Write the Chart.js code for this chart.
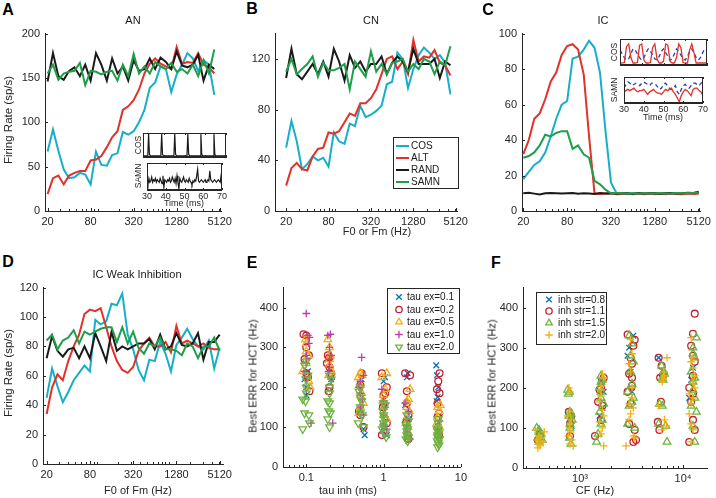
<!DOCTYPE html>
<html><head><meta charset="utf-8">
<script src="https://cdn.jsdelivr.net/npm/chart.js@4.4.1/dist/chart.umd.min.js"></script>
<style>
html,body{margin:0;padding:0;background:#fff;}
#fig{position:relative;width:716px;height:498px;overflow:hidden;background:#fff;font-family:"Liberation Sans",Arial,Helvetica,sans-serif;color:#262626;}
#fig canvas{position:absolute;}
.t{position:absolute;white-space:nowrap;line-height:1;}
</style></head>
<body><div id="fig"></div>
<script>
// ================= DATA =================
const freqHz = [20,23.8,28.3,33.6,40,47.6,56.6,67.3,80,95.1,113,135,160,190,226,269,320,381,453,538,640,761,905,1076,1280,1522,1810,2153,2560,3044,3620,4305,5120];
const freqTickLabels = [20,80,320,1280,5120];
const freqMinorTicks = [30,40,50,60,70,90,100,200,300,400,500,600,700,800,900,1000,2000,3000,4000,5000];
const seriesNames = ['COS','ALT','RAND','SAMN'];

// Panel A (AN)
const anCos  = [67,92,68,47,37,38,43,41,30,67,52,51,63,65,89,86,90,100,114,139,145,163,160,134,154,165,178,172,158,170,165,131];
const anAlt  = [19,37,40,30,40,43,45,45,57,58,62,72,83,90,114,118,125,137,155,166,172,166,163,160,185,166,168,167,178,165,162,155];
const anRand = [146,178,152,148,158,162,152,165,147,178,165,147,172,155,163,147,170,158,160,172,160,173,168,160,180,164,162,165,176,147,165,160];
const anSamn = [155,165,148,155,157,158,167,142,158,157,154,157,158,147,165,152,177,155,163,155,168,163,160,167,157,160,155,165,152,170,155,182];
// Panel B (CN)
const cnCos  = [50,71,55,33,37,43,40,42,35,62,55,53,69,67,83,74,76,79,83,100,102,125,120,97,112,123,129,125,120,123,117,92];
const cnAlt  = [20,34,38,33,32,43,49,50,62,61,63,70,77,75,85,85,89,96,108,120,122,112,118,108,135,118,122,121,127,117,115,107];
const cnRand = [105,128,108,104,110,116,108,118,106,128,118,103,123,113,118,110,116,116,122,108,117,122,118,110,128,116,116,116,120,105,118,115];
const cnSamn = [110,120,108,112,116,122,106,117,111,111,113,116,96,118,112,106,126,110,116,108,117,118,120,110,116,112,120,118,108,118,115,130];
// Panel C (IC)
const icCos  = [18,22,26,28,33,42,52,60,62,86,87,91,96,92,78,45,16,10,10,9.5,10,9.8,9.6,10,9.4,9.8,10,9.6,9.8,10,9.7,9.9,10];
const icAlt  = [32,40,52,55,63,73,78,88,93,94,91,77,42,10,9.6,9.8,10,9.5,9.6,10,9.4,9.8,9.5,10,9.6,9.8,9.4,10,9.6,9.5,9.8,9.6,9.9];
const icRand = [10,10.3,9.8,9.3,10,10.2,10,9.8,10,10.1,9.7,10,9.8,9.6,10.2,9.9,10,9.7,10.2,10,9.6,10.1,10,9.8,10.2,9.7,10,10.1,9.8,10,10.3,10.2,10.8];
const icSamn = [30,31,33,37,43,42,44,45,45,35,37,32,30,17,15,12,10,10,10.2,9.8,10,9.9,10.1,9.8,10,10.1,9.9,10,10.2,10,10.1,10.2,10.4];
// Panel D (IC weak inhibition)
const wkCos  = [45,65,53,42,49,57,62,67,63,98,95,97,109,108,116,88,78,64,57,71,70,83,75,63,81,86,92,85,80,78,84,65,79];
const wkAlt  = [34,52,61,57,70,80,88,102,105,104,106,93,80,70,64,62,66,77,82,86,80,80,83,76,94,82,84,82,80,82,79,78,78];
const wkRand = [72,87,77,73,78,79,72,80,72,89,80,70,90,77,80,78,80,82,82,85,78,88,78,80,89,81,80,82,89,71,83,83,88];
const wkSamn = [84,88,78,84,86,91,82,90,88,90,92,93,93,83,93,82,90,79,75,82,80,86,78,78,77,74,82,80,72,80,80,86,77];

// Insets (time in ms, normalized traces)
const insetTimeTicks = [30,40,50,60,70];
const aCosT = [30,32.3,32.7,33.1,33.6,38.6,39.0,39.4,39.9,44.9,45.3,45.7,46.2,51.2,51.6,52.0,52.5,57.5,57.9,58.3,58.8,63.8,64.2,64.6,65.1,70];
const aCosV = [0.05,0.05,1,0.12,0.05,0.05,1,0.12,0.05,0.05,1,0.12,0.05,0.05,1,0.12,0.05,0.05,1,0.12,0.05,0.05,1,0.12,0.05,0.05];
const aSamnT = [30,30.5,31,31.5,32,32.5,33,33.5,34,34.5,35,35.5,36,36.5,37,37.5,38,38.5,39,39.5,40,40.5,41,41.5,42,42.5,43,43.5,44,44.5,45,45.5,46,46.5,47,47.5,48,48.5,49,49.5,50,50.5,51,51.5,52,52.5,53,53.5,54,54.5,55,55.5,56,56.5,57,57.5,58,58.5,59,59.5,60,60.5,61,61.5,62,62.5,63,63.5,64,64.5,65,65.5,66,66.5,67,67.5,68,68.5,69,69.5,70];
const aSamnV = [0.35,0.2,0.45,0.3,0.35,0.5,0.3,0.4,0.35,0.45,
  0.3,0.4,0.35,0.3,0.45,0.35,0.25,0.55,0.1,0.4,
  0.35,0.3,0.4,0.35,0.45,0.3,0.35,0.5,0.4,0.3,
  0.45,0.25,0.55,0.3,0.05,0.45,0.35,0.3,0.4,0.5,
  0.35,0.3,0.4,0.35,0.3,0.45,0.35,0.3,0.2,0.35,
  0.3,0.4,0.35,0.55,0.8,0.35,0.3,0.35,0.4,0.35,
  0.3,0.35,0.4,0.3,0.35,0.4,0.35,0.75,0.4,0.35,
  0.3,0.35,0.4,0.35,0.3,0.35,0.4,0.35,0.3,0.55,0.05];
const cT = [30,31,32,33,34,35,36,37,38,39,40,41,42,43,44,45,46,47,48,49,50,51,52,53,54,55,56,57,58,59,60,61,62,63,64,65,66,67,68,69,70];
const cCosRed  = [0.1,0.08,0.1,0.75,0.85,0.3,0.08,0.08,0.1,0.8,0.85,0.2,0.08,0.08,0.1,0.7,0.85,0.25,0.08,0.08,0.15,0.85,0.8,0.15,0.08,0.08,0.3,0.85,0.7,0.1,0.08,0.08,0.6,0.85,0.5,0.08,0.08,0.08,0.08,0.08,0.08];
const cCosBlue = [0.6,0.45,0.3,0.2,0.25,0.45,0.65,0.6,0.45,0.3,0.2,0.3,0.5,0.65,0.55,0.4,0.25,0.2,0.35,0.55,0.65,0.5,0.35,0.2,0.25,0.45,0.65,0.55,0.4,0.25,0.2,0.35,0.55,0.65,0.5,0.3,0.2,0.3,0.5,0.65,0.6];
const cSamnRed = [0.45,0.5,0.55,0.5,0.55,0.6,0.5,0.45,0.5,0.5,0.55,0.45,0.35,0.45,0.5,0.55,0.45,0.4,0.4,0.35,0.45,0.55,0.5,0.55,0.6,0.45,0.35,0.2,0.05,0.3,0.45,0.55,0.5,0.4,0.3,0.55,0.6,0.6,0.5,0.45,0.3];
const cSamnBlue= [0.6,0.75,0.85,0.8,0.7,0.75,0.8,0.75,0.7,0.8,0.85,0.8,0.75,0.7,0.8,0.8,0.75,0.65,0.55,0.6,0.75,0.8,0.7,0.6,0.55,0.6,0.7,0.45,0.35,0.55,0.7,0.75,0.65,0.6,0.7,0.8,0.8,0.75,0.7,0.8,0.85];

// Panel E: [tau inh (ms), best ERR (Hz)] per tau ex
const tauExLabels = ['tau ex=0.1','tau ex=0.2','tau ex=0.5','tau ex=1.0','tau ex=2.0'];
const tauEx01 = [[0.095,220],[0.1,180],[0.105,240],[0.1,200],[0.19,270],[0.21,220],[0.2,245],[0.52,220],[0.5,210],[0.55,95],[0.57,80],[1.05,225],[1.0,215],[1.0,100],[1.1,80],[2.05,235],[2.0,225],[1.9,155],[2.1,120],[4.8,255],[4.9,230],[5.1,200],[4.85,165],[5.0,175]];
const tauEx02 = [[0.092,333],[0.1,330],[0.1,300],[0.108,280],[0.095,270],[0.1,235],[0.105,225],[0.11,190],[0.19,280],[0.2,275],[0.185,260],[0.2,250],[0.21,235],[0.2,200],[0.195,190],[0.52,235],[0.5,205],[0.48,140],[0.5,130],[0.55,100],[0.95,235],[1.1,200],[1.05,185],[1.0,180],[1.0,160],[0.98,150],[1.1,110],[0.95,80],[1.9,235],[2.2,230],[2.0,190],[2.0,160],[2.1,130],[1.95,110],[2.05,80],[2.1,70],[5.3,235],[5.1,215],[4.9,195],[5.3,185],[5.0,160],[5.2,135],[5.0,125],[5.1,100],[5.2,80]];
const tauEx05 = [[0.098,320],[0.1,310],[0.1,290],[0.105,280],[0.1,260],[0.09,240],[0.108,215],[0.112,200],[0.19,320],[0.2,300],[0.205,280],[0.2,270],[0.2,255],[0.21,240],[0.195,230],[0.5,235],[0.53,230],[0.47,225],[0.5,205],[0.52,185],[0.5,180],[0.55,160],[0.5,150],[0.48,135],[1.1,235],[0.95,225],[1.05,195],[1.0,180],[0.98,165],[1.0,150],[1.0,130],[1.1,120],[2.2,195],[2.1,170],[2.0,165],[2.0,150],[2.15,140],[2.0,125],[1.95,110],[2.05,100],[5.4,155],[5.0,150],[5.2,140],[5.0,125],[4.9,110],[5.3,100],[5.1,90]];
const tauEx10 = [[0.1,385],[0.105,330],[0.11,325],[0.108,310],[0.1,280],[0.1,260],[0.095,240],[0.1,220],[0.115,110],[0.19,330],[0.205,333],[0.2,300],[0.21,280],[0.2,270],[0.2,250],[0.195,240],[0.21,220],[0.22,110],[0.52,275],[0.55,230],[0.5,215],[0.48,200],[0.5,185],[0.53,170],[0.5,150],[0.55,130],[0.95,195],[1.0,165],[1.05,150],[1.0,130],[1.0,110],[1.1,95],[0.98,85],[1.9,160],[2.1,140],[2.0,120],[2.0,105],[2.0,90],[2.2,70],[5.3,115],[5.0,95],[5.2,85],[5.0,75]];
const tauEx20 = [[0.1,265],[0.095,255],[0.105,230],[0.1,220],[0.1,200],[0.1,185],[0.09,170],[0.098,165],[0.095,135],[0.108,130],[0.11,110],[0.09,95],[0.2,230],[0.21,220],[0.2,200],[0.2,185],[0.19,165],[0.2,160],[0.195,140],[0.205,135],[0.19,120],[0.2,100],[0.5,200],[0.48,190],[0.5,175],[0.52,165],[0.5,150],[0.5,135],[0.53,130],[0.47,110],[0.55,100],[1.0,160],[1.05,155],[0.98,140],[1.0,130],[1.02,120],[1.0,110],[1.0,100],[0.96,95],[1.05,85],[1.08,75],[2.0,130],[2.1,115],[1.95,105],[2.0,100],[2.05,95],[2.0,90],[2.0,80],[2.1,75],[1.95,70],[2.05,65],[5.1,120],[5.1,110],[4.9,95],[5.0,90],[5.2,85],[5.0,80],[5.0,75],[5.3,70],[4.95,65],[5.1,60],[5.2,55],[5.0,50]];

// Panel F: [CF (Hz), best ERR (Hz)] per inhibition strength
const inhStrLabels = ['inh str=0.8','inh str=1.1','inh str=1.5','inh str=2.0'];
const inhStr08 = [[400,90],[420,75],[800,125],[830,105],[1600,215],[1700,190],[1650,150],[1550,130],[2900,280],[3000,300],[3300,330],[3100,240],[3200,190],[5800,275],[6400,230],[6200,225],[12000,220],[12500,250],[11500,175]];
const inhStr11 = [[410,85],[390,70],[780,140],[820,130],[800,110],[800,80],[1700,225],[1600,200],[1550,195],[1500,165],[1650,155],[1600,120],[1400,80],[2900,333],[3400,320],[3300,305],[3100,275],[3200,260],[3000,235],[3200,225],[3200,205],[2900,190],[3100,160],[3000,110],[3400,95],[3500,70],[3300,65],[5800,275],[6200,255],[6500,235],[6400,230],[6000,225],[6100,165],[5700,115],[5900,95],[13000,385],[12500,335],[12000,305],[12500,280],[13000,265],[12500,230],[11500,200],[12500,185],[12000,165],[12500,120],[13000,95],[11500,65]];
const inhStr15 = [[380,100],[400,95],[400,90],[420,85],[410,80],[390,75],[430,70],[400,65],[760,195],[790,190],[770,185],[800,140],[820,135],[780,130],[840,120],[800,110],[800,100],[790,75],[820,60],[1600,230],[1650,220],[1600,215],[1550,200],[1600,190],[1600,175],[1700,160],[1550,140],[1650,120],[1600,110],[1500,85],[1450,65],[3000,330],[3200,310],[3100,280],[3300,265],[3100,240],[3200,210],[2900,190],[3300,175],[3200,165],[3000,155],[2900,110],[3400,100],[6200,255],[6500,240],[6600,235],[6300,225],[6400,220],[5900,160],[6300,155],[5800,110],[6800,105],[7000,65],[13500,325],[12500,300],[12500,285],[13000,275],[12000,240],[13000,225],[12500,215],[12500,195],[13000,175],[12000,155],[13500,140],[12500,105],[13000,65]];
const inhStr20 = [[370,95],[450,90],[400,80],[420,75],[380,70],[440,65],[400,60],[410,55],[390,50],[780,200],[800,190],[800,140],[760,130],[820,120],[800,110],[790,100],[810,90],[770,80],[830,70],[800,60],[860,55],[1650,235],[1700,225],[1600,205],[1600,195],[1600,180],[1550,165],[1650,145],[1700,130],[1550,115],[1650,100],[1600,85],[1700,55],[3100,320],[3200,285],[3000,260],[3100,240],[3200,200],[3200,175],[3000,160],[3300,150],[3100,135],[3000,120],[3300,80],[3400,75],[2800,55],[7000,275],[6500,240],[6600,230],[6400,225],[6300,220],[6300,215],[5800,155],[6600,120],[6900,105],[6200,95],[12000,325],[12500,275],[12000,265],[12500,250],[13000,230],[12500,215],[13000,200],[11500,185],[12500,175],[12000,160],[11500,135],[12000,110],[12500,95],[12000,65]];

// ================= STYLE / HELPERS =================
const AX = '#262626';
const FONT = '"Liberation Sans", Arial, Helvetica, sans-serif';
const lineColors = ['#17AFC8','#E2302A','#1A1A1A','#1E9E4A'];
const fig = document.getElementById('fig');

function marker(c, style, x, y, r){
  c.beginPath();
  if (style==='x'){ c.moveTo(x-r,y-r);c.lineTo(x+r,y+r);c.moveTo(x+r,y-r);c.lineTo(x-r,y+r); }
  else if (style==='+'){ c.moveTo(x-r,y);c.lineTo(x+r,y);c.moveTo(x,y-r);c.lineTo(x,y+r); }
  else if (style==='o'){ c.arc(x,y,r,0,Math.PI*2); }
  else if (style==='^'){ c.moveTo(x,y-r);c.lineTo(x+r*0.87,y+r*0.5);c.lineTo(x-r*0.87,y+r*0.5);c.closePath(); }
  else if (style==='v'){ c.moveTo(x,y+r);c.lineTo(x+r*0.87,y-r*0.5);c.lineTo(x-r*0.87,y-r*0.5);c.closePath(); }
  c.stroke();
}

const inTicks = { id:'inTicks', afterDraw(chart, args, o){
  if (!o || !o.on) return;
  const c = chart.ctx, A = chart.chartArea, sx = chart.scales.x, sy = chart.scales.y;
  c.save(); c.strokeStyle = AX; c.lineWidth = 1; c.beginPath();
  const L = o.len || 3, M = o.mlen || 2;
  const xt = (vals, len) => (vals||[]).forEach(v => {
    const p = Math.round(sx.getPixelForValue(v)) + 0.5;
    if (p < A.left || p > A.right + 1) return;
    c.moveTo(p, A.bottom); c.lineTo(p, A.bottom - len);
    if (o.box){ c.moveTo(p, A.top); c.lineTo(p, A.top + len); }
  });
  const yt = (vals, len) => (vals||[]).forEach(v => {
    const p = Math.round(sy.getPixelForValue(v)) + 0.5;
    if (p < A.top - 1 || p > A.bottom + 1) return;
    c.moveTo(A.left, p); c.lineTo(A.left + len, p);
    if (o.box){ c.moveTo(A.right, p); c.lineTo(A.right - len, p); }
  });
  xt(o.xMajor, L); xt(o.xMinor, M); yt(o.yMajor, L); yt(o.yMinor, M);
  c.stroke(); c.restore();
}};

const framePlugin = { id:'frame',
  beforeDraw(chart, args, o){ if (!o || !o.on) return; const A = chart.chartArea, c = chart.ctx;
    c.save(); c.fillStyle = '#fff'; c.fillRect(A.left, A.top, A.right-A.left, A.bottom-A.top); c.restore(); },
  afterDraw(chart, args, o){ if (!o || !o.on) return; const A = chart.chartArea, c = chart.ctx;
    c.save(); c.strokeStyle = AX; c.lineWidth = 1;
    c.strokeRect(Math.round(A.left)+0.5, Math.round(A.top)+0.5, Math.round(A.right-A.left)-1, Math.round(A.bottom-A.top)-1); c.restore(); }
};

const boxLegend = { id:'boxLegend', afterDraw(chart, args, o){
  if (!o || !o.items) return;
  const c = chart.ctx, ox = chart.$ox, oy = chart.$oy;
  c.save();
  const [bx,by,bw,bh] = o.box;
  c.fillStyle = '#fff'; c.fillRect(bx-ox, by-oy, bw, bh);
  c.strokeStyle = AX; c.lineWidth = 1; c.strokeRect(bx-ox+0.5, by-oy+0.5, bw-1, bh-1);
  c.font = '10px ' + FONT; c.textBaseline = 'middle'; c.textAlign = 'left';
  o.items.forEach((it, i) => {
    const y = o.rows[i] - oy;
    c.strokeStyle = it.color;
    if (it.line){ c.lineWidth = 2; c.beginPath(); c.moveTo(o.mx[0]-ox, y); c.lineTo(o.mx[1]-ox, y); c.stroke(); }
    else { c.lineWidth = 1.3; marker(c, it.style, o.mx[0]-ox, y, it.r); }
    c.fillStyle = '#1a1a1a'; c.fillText(it.text, o.tx-ox, y+0.5);
  });
  c.restore();
}};

function axis(type, min, max, ticks, labelMap, size, pad, show){
  return { type, min, max, display:true,
    afterBuildTicks: s => { s.ticks = ticks.map(v => ({value:v})); },
    ticks: { display: show !== false, autoSkip:false, maxRotation:0, minRotation:0, padding:pad, color:AX,
             font:{family:FONT, size:size}, callback: v => (labelMap && labelMap.has(v)) ? labelMap.get(v) : '' },
    grid: { display:false, drawTicks:false },
    border: { display:true, color:AX, width:1 } };
}

function mkChart(area, pad, type, datasets, scales, pluginOpts){
  const x0 = area.l - pad.l, y0 = area.t - pad.t;
  const w = area.r + pad.r - x0, h = area.b + pad.b - y0;
  const cv = document.createElement('canvas');
  cv.width = w; cv.height = h;
  cv.style.left = x0+'px'; cv.style.top = y0+'px'; cv.style.width = w+'px'; cv.style.height = h+'px';
  fig.appendChild(cv);
  scales.x.afterFit = s => { s.height = pad.b; };
  scales.y.afterFit = s => { s.width = pad.l; };
  const ch = new Chart(cv, { type, data:{datasets},
    options:{ responsive:false, animation:false, devicePixelRatio:1, events:[],
      layout:{ padding:{ left:0, right:pad.r, top:pad.t, bottom:0 } },
      plugins: Object.assign({ legend:{display:false}, tooltip:{enabled:false} }, pluginOpts||{}),
      scales },
    plugins:[framePlugin, inTicks, boxLegend] });
  ch.$ox = x0; ch.$oy = y0;
  ch.draw();
  return ch;
}

function T(s, x, y, size, o){
  o = o || {};
  const d = document.createElement('div');
  d.className = 't'; d.textContent = s;
  d.style.left = x+'px'; d.style.top = y+'px'; d.style.fontSize = size+'px';
  if (o.bold) d.style.fontWeight = 'bold';
  if (o.color) d.style.color = o.color;
  d.style.transform = 'translate(-50%,-50%)' + (o.rot ? ' rotate(-90deg)' : '');
  fig.appendChild(d);
}

const freqLabelMap = new Map(freqTickLabels.map(v => [v, String(v)]));

function linePanel(area, xr, yr, yTicks, sets){
  const yMap = new Map(yTicks.map(v => [v, String(v)]));
  const datasets = sets.map((vals, i) => ({ label: seriesNames[i],
    data: vals.map((v, j) => ({x: freqHz[j], y: v})),
    borderColor: lineColors[i], backgroundColor: lineColors[i], borderWidth: 2,
    pointRadius: 0, fill: false, tension: 0, order: 4 - i }));
  const scales = {
    x: axis('logarithmic', xr[0], xr[1], freqTickLabels, freqLabelMap, 11, 4),
    y: axis('linear', yr[0], yr[1], yTicks, yMap, 11, 5)
  };
  return { datasets, scales, pluginOpts: { inTicks:{on:true, len:3, mlen:2, xMajor:freqTickLabels, xMinor:freqMinorTicks, yMajor:yTicks} } };
}

// ================= PANELS A-D =================
const pA = linePanel({l:45,t:28,r:230,b:211}, [18.4,5500], [0,200], [0,50,100,150,200], [anCos,anAlt,anRand,anSamn]);
mkChart({l:45,t:28,r:230,b:211}, {l:42,t:6,r:6,b:22}, 'line', pA.datasets, pA.scales, pA.pluginOpts);

const pB = linePanel({l:275,t:28,r:468,b:211}, [13.9,5340], [0,140], [0,40,80,120], [cnCos,cnAlt,cnRand,cnSamn]);
pB.pluginOpts.boxLegend = { box:[393,137,66,52], rows:[146,158,170,182], mx:[396,409], tx:411,
  items: seriesNames.map((n,i) => ({text:n, color:lineColors[i], line:true})) };
mkChart({l:275,t:28,r:468,b:211}, {l:40,t:6,r:4,b:22}, 'line', pB.datasets, pB.scales, pB.pluginOpts);

const pC = linePanel({l:522,t:28,r:711,b:211}, [19.2,5500], [0,100], [0,20,40,60,80,100], [icCos,icAlt,icRand,icSamn]);
mkChart({l:522,t:28,r:711,b:211}, {l:40,t:6,r:4,b:22}, 'line', pC.datasets, pC.scales, pC.pluginOpts);

const pD = linePanel({l:43,t:282,r:230,b:464}, [17.8,5800], [0,120], [0,20,40,60,80,100,120], [wkCos,wkAlt,wkRand,wkSamn]);
mkChart({l:43,t:282,r:230,b:464}, {l:40,t:6,r:6,b:22}, 'line', pD.datasets, pD.scales, pD.pluginOpts);

// ================= INSETS =================
function insetChart(area, showX, traces){
  const datasets = traces.map((tr, i) => ({ data: tr.v.map((v, j) => ({x: tr.t[j], y: v})),
    borderColor: tr.color, borderWidth: tr.w || 1.3, borderDash: tr.dash || [], pointRadius: 0, tension: 0, fill:false, order: traces.length - i }));
  const scales = {
    x: axis('linear', 30, 70, insetTimeTicks, new Map(insetTimeTicks.map(v => [v, String(v)])), 9, 1, showX),
    y: axis('linear', 0, 1.05, [0,1], null, 9, 1, false)
  };
  mkChart(area, {l:2, t:2, r:2, b: showX ? 13 : 2}, 'line', datasets, scales,
    { frame:{on:true}, inTicks:{on:true, box:true, len:2, xMajor:insetTimeTicks} });
}
insetChart({l:143,t:133,r:226,b:157}, false, [{t:aCosT, v:aCosV, color:'#1A1A1A', w:1.2}]);
insetChart({l:143,t:163,r:226,b:190}, true,  [{t:aSamnT, v:aSamnV, color:'#1A1A1A', w:1.2}]);
insetChart({l:620,t:39,r:707,b:65}, false,  [{t:cT, v:cCosBlue, color:'#2C3FAA', w:1.3, dash:[4,3]}, {t:cT, v:cCosRed, color:'#E2302A', w:1.3}]);
insetChart({l:620,t:77,r:707,b:103}, true,  [{t:cT, v:cSamnBlue, color:'#2C3FAA', w:1.3, dash:[4,3]}, {t:cT, v:cSamnRed, color:'#E2302A', w:1.3}]);

// ================= PANELS E, F (scatter) =================
const eColors = ['#0072BD','#C3212F','#F2B111','#BE3EA8','#6DB33F'];
const eStyles = ['x','o','^','+','v'];
function pointOpts(style){
  if (style==='x') return {pointStyle:'crossRot', pointRadius:4, pointRotation:0};
  if (style==='+') return {pointStyle:'cross', pointRadius:3.8, pointRotation:0};
  if (style==='o') return {pointStyle:'circle', pointRadius:3.4, pointRotation:0};
  if (style==='^') return {pointStyle:'triangle', pointRadius:4.4, pointRotation:0};
  return {pointStyle:'triangle', pointRadius:4.4, pointRotation:180};
}
function scatterSets(list, colors, styles){
  return list.map((pairs, i) => Object.assign({
    data: pairs.map(p => ({x:p[0], y:p[1]})), borderColor: colors[i], backgroundColor:'rgba(0,0,0,0)',
    pointBorderWidth: 1.3, showLine:false, order: list.length - i }, pointOpts(styles[i])));
}
const errTicks = [0,100,200,300,400];
const errMap = new Map(errTicks.map(v => [v, String(v)]));

const eTickVals = [0.1,1,10];
const eTickMap = new Map([[0.1,'0.1'],[1,'1'],[10,'10']]);
const eMinor = [0.05,0.06,0.07,0.08,0.09,0.2,0.3,0.4,0.5,0.6,0.7,0.8,0.9,2,3,4,5,6,7,8,9];
mkChart({l:283,t:282,r:467,b:467}, {l:40,t:6,r:4,b:22}, 'scatter',
  scatterSets([tauEx01,tauEx02,tauEx05,tauEx10,tauEx20], eColors, eStyles),
  { x: axis('logarithmic', 0.05, 10, eTickVals, eTickMap, 11, 4), y: axis('linear', 0, 450, errTicks, errMap, 11, 5) },
  { inTicks:{on:true, len:3, mlen:2, xMajor:eTickVals, xMinor:eMinor, yMajor:errTicks},
    boxLegend:{ box:[387,288,73,66], rows:[297,309.5,322,334.5,347], mx:[399], tx:407,
      items: tauExLabels.map((n,i) => ({text:n, color:eColors[i], style:eStyles[i], r: eStyles[i]==='x'?2.8:(eStyles[i]==='o'?3.2:3.8)})) } });

const fColors = ['#0072BD','#C3212F','#6DB33F','#F2B111'];
const fStyles = ['x','o','^','+'];
const fTickVals = [1000,10000];
const fTickMap = new Map([[1000,'10³'],[10000,'10⁴']]);
const fMinor = [300,400,500,600,700,800,900,2000,3000,4000,5000,6000,7000,8000,9000];
mkChart({l:523,t:282,r:707,b:468}, {l:40,t:6,r:6,b:22}, 'scatter',
  scatterSets([inhStr08,inhStr11,inhStr15,inhStr20], fColors, fStyles),
  { x: axis('logarithmic', 280, 17100, fTickVals, fTickMap, 11, 4), y: axis('linear', 0, 450, errTicks, errMap, 11, 5) },
  { inTicks:{on:true, len:3, mlen:2, xMajor:fTickVals, xMinor:fMinor, yMajor:errTicks},
    boxLegend:{ box:[536,292,71,53], rows:[299.5,311,323,335], mx:[549], tx:558,
      items: inhStrLabels.map((n,i) => ({text:n, color:fColors[i], style:fStyles[i], r: fStyles[i]==='x'?2.8:(fStyles[i]==='o'?3.2:3.8)})) } });

// ================= TEXT =================
T('A', 8, 10, 16, {bold:true, color:'#000'});
T('B', 252, 9, 16, {bold:true, color:'#000'});
T('C', 488, 10, 16, {bold:true, color:'#000'});
T('D', 8, 262, 16, {bold:true, color:'#000'});
T('E', 252, 263, 16, {bold:true, color:'#000'});
T('F', 496, 263, 16, {bold:true, color:'#000'});
T('AN', 133, 20, 11, {color:'#1a1a1a'});
T('CN', 371, 20, 11, {color:'#1a1a1a'});
T('IC', 603, 20, 11, {color:'#1a1a1a'});
T('IC Weak Inhibition', 137, 274, 11, {color:'#1a1a1a'});
T('Firing Rate (sp/s)', 9, 120, 11.5, {rot:true});
T('Firing Rate (sp/s)', 9, 373, 11.5, {rot:true});
T('F0 or Fm (Hz)', 377, 231, 11);
T('F0 of Fm (Hz)', 138, 490, 11);
T('Best ERR for HCT (Hz)', 253, 376, 11, {rot:true});
T('tau inh (ms)', 348, 490, 11);
T('Best ERR for HCT (Hz)', 492, 376, 11, {rot:true});
T('CF (Hz)', 595, 490, 11);
T('COS', 138, 145, 8.5, {rot:true});
T('SAMN', 138, 176, 8.5, {rot:true});
T('Time (ms)', 184, 203, 9);
T('COS', 614, 52, 8.5, {rot:true});
T('SAMN', 614, 90, 8.5, {rot:true});
T('Time (ms)', 663, 117, 9);
</script>
</body></html>
